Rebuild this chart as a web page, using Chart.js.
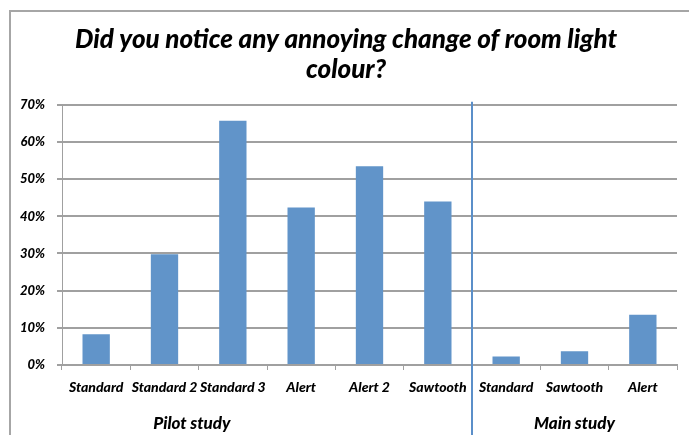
<!DOCTYPE html>
<html>
<head>
<meta charset="utf-8">
<script src="https://cdn.jsdelivr.net/npm/chart.js@4"></script>
<style>
  html, body { margin: 0; padding: 0; background: #fff; }
  #wrap { position: relative; width: 689px; height: 435px; overflow: hidden; }
  #frame { position: absolute; left: 9px; top: 10px; width: 700px; height: 450px;
           border-left: 2px solid #a6a6a6; border-top: 2px solid #a6a6a6; }
  canvas { position: absolute; left: 0; top: 0; }
</style>
</head>
<body>
<div id="wrap">
  <div id="frame"></div>
  <canvas id="myChart" width="689" height="435"></canvas>
</div>
<script>
  const labels = [
    'Standard',
    'Standard 2',
    'Standard 3',
    'Alert',
    'Alert 2',
    'Sawtooth',
    'Standard',
    'Sawtooth',
    'Alert',
  ];

  // share of participants, in percent
  const values = [8.3, 29.8, 65.7, 42.4, 53.5, 44.0, 2.3, 3.7, 13.5];

  const yTicks = [0, 10, 20, 30, 40, 50, 60, 70];

  const groups = ['Pilot study', 'Main study'];

  const font = 'Lato';

  // draws the divider line and the two study names under the axis
  const studyGroups = {
    id: 'studyGroups',
    afterDraw(chart) {
      const ctx = chart.ctx;
      const x = chart.scales.x;
      const area = chart.chartArea;
      const splitX = (x.getPixelForValue(5) + x.getPixelForValue(6)) / 2;
      ctx.save();
      ctx.strokeStyle = '#5b8fc9';
      ctx.lineWidth = 2;
      ctx.beginPath();
      ctx.moveTo(splitX, area.top - 3);
      ctx.lineTo(splitX, chart.height);
      ctx.stroke();

      ctx.fillStyle = '#000';
      ctx.font = 'italic 900 17px ' + font;
      ctx.textAlign = 'center';
      ctx.textBaseline = 'middle';
      ctx.fillText(groups[0], x.getPixelForValue(1.4), 424);
      ctx.fillText(groups[1], x.getPixelForValue(7), 424);
      ctx.restore();
    }
  };

  const data = {
    labels: labels,
    datasets: [{
      label: 'Noticed',
      backgroundColor: '#6194c9',
      borderColor: '#6194c9',
      data: values,
      barPercentage: 0.4,
      categoryPercentage: 1.0,
    }]
  };

  const config = {
    type: 'bar',
    data: data,
    options: {
      responsive: false,
      animation: false,
      layout: {
        padding: { left: 15, right: 12, top: 10, bottom: 0 }
      },
      plugins: {
        legend: { display: false },
        tooltip: { enabled: false },
        title: {
          display: true,
          text: ['Did you notice any annoying change of room light', 'colour?'],
          color: '#000',
          font: { family: font, size: 26, weight: 900, style: 'italic', lineHeight: 1.15 },
          padding: { top: 15, bottom: 20 }
        }
      },
      scales: {
        x: {
          offset: true,
          afterFit(scale) { scale.height = 70; },
          border: { display: true, color: '#a0a0a0', width: 2 },
          grid: {
            offset: true,
            drawOnChartArea: false,
            drawTicks: true,
            tickLength: 5,
            color: '#a0a0a0',
            lineWidth: 1
          },
          ticks: {
            color: '#000',
            padding: 9,
            maxRotation: 0,
            autoSkip: false,
            font: { family: font, size: 14, weight: 900, style: 'italic' }
          }
        },
        y: {
          min: 0,
          max: 70,
          afterFit(scale) { scale.width = 47; },
          afterBuildTicks(scale) { scale.ticks = yTicks.map(v => ({ value: v })); },
          border: { display: true, color: '#a0a0a0', width: 1 },
          grid: {
            color: '#a0a0a0',
            lineWidth: 2,
            tickLength: 5
          },
          ticks: {
            color: '#000',
            padding: 12,
            font: { family: font, size: 13, weight: 900, style: 'italic' },
            callback: v => v + '%'
          }
        }
      }
    },
    plugins: [studyGroups]
  };

  const myChart = new Chart(
    document.getElementById('myChart'),
    config
  );
</script>
</body>
</html>
